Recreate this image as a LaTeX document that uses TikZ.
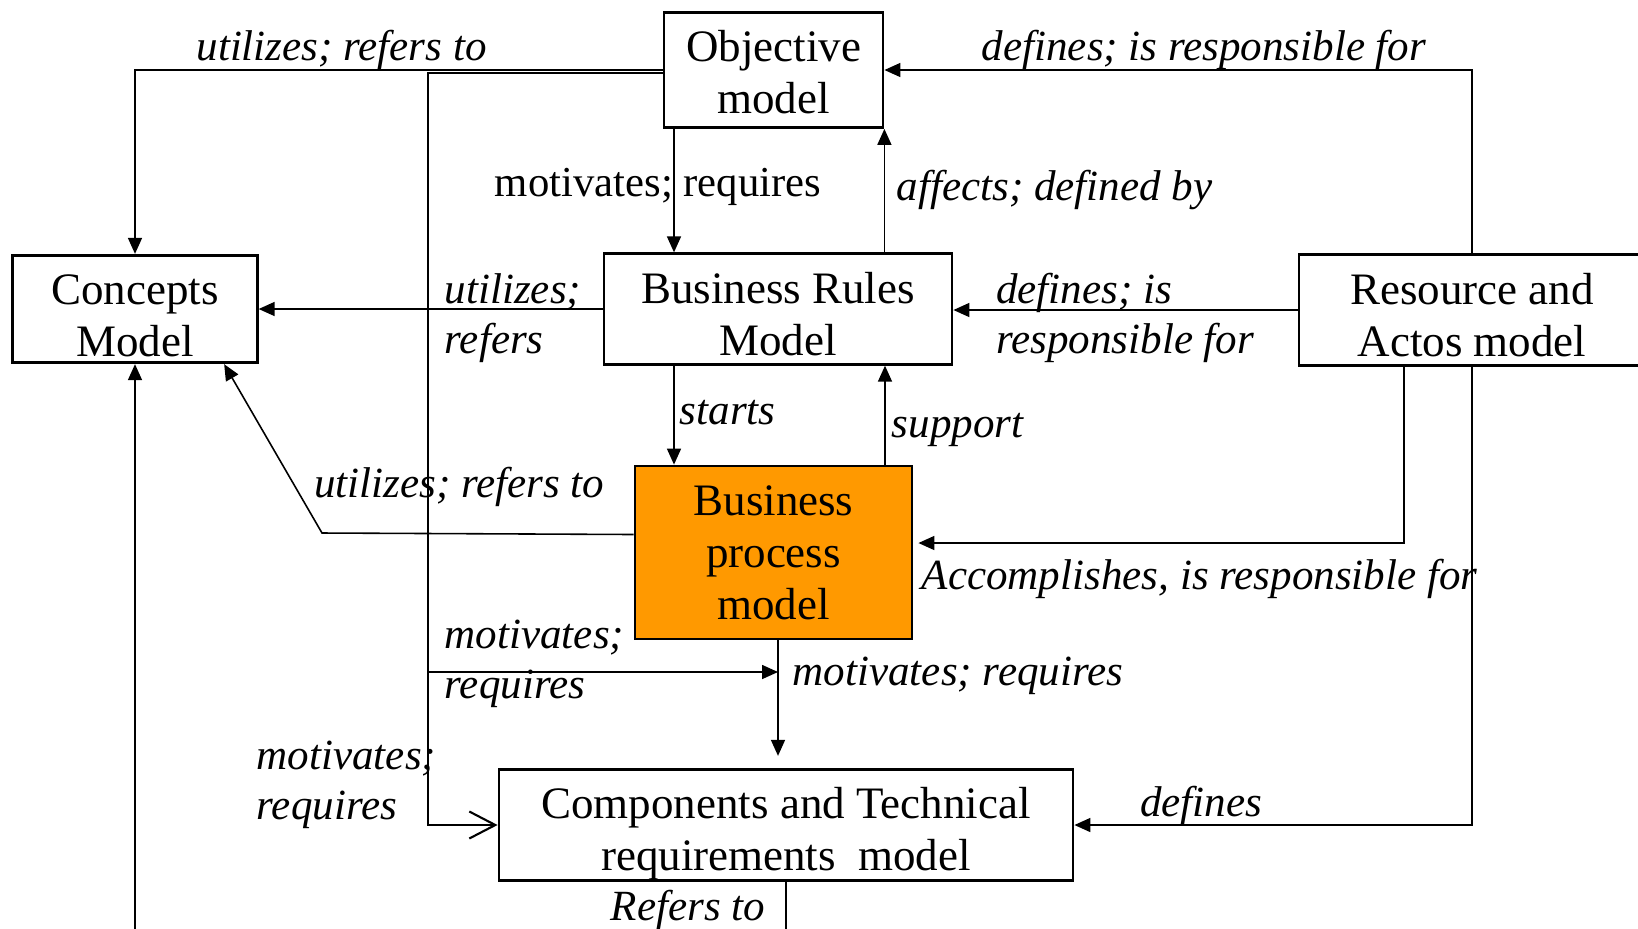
\documentclass[tikz,border=0pt]{standalone}
\usepackage{fontspec}
\setmainfont{Liberation Serif}
\usepackage{tikz}
\usetikzlibrary{arrows.meta}
\definecolor{procorange}{RGB}{255,153,0}

\begin{document}
\begin{tikzpicture}[->,>={Triangle[length=1.6mm,width=1.4mm]},x=0.1mm,y=-0.1mm,
                    line width=0.45pt]
  \tikzstyle{model}=[draw=black,line width=0.8pt,align=center,inner sep=0pt,
                     font=\fontsize{12.8}{14.8}\selectfont]
  \tikzstyle{lbl}=[align=left,inner sep=0pt,yshift=-0.35mm,
                   font=\fontsize{12.25}{14.3}\selectfont\itshape]
  \tikzstyle{open}=[-{Straight Barb[length=2.6mm,width=2.7mm,line width=0.6pt]}]
  \useasboundingbox (0,0) rectangle (1638,928);

  \node[model,minimum width=21.9mm,minimum height=11.5mm]  (O) at (773.5,70)  {\rule{0pt}{10.1pt}Objective\\model};
  \node[model,minimum width=24.45mm,minimum height=10.75mm] (C) at (135,309) {\rule{0pt}{12.1pt}Concepts\\Model};
  \node[model,minimum width=34.8mm,minimum height=11.05mm] (R) at (778,309)   {\rule{0pt}{11.9pt}Business Rules\\Model};
  \node[model,minimum width=34.6mm,minimum height=11.05mm] (A) at (1472,310)  {\rule{0pt}{11.6pt}Resource and\\Actos model};
  \node[model,fill=procorange,minimum width=27.7mm,minimum height=17.3mm] (P) at (773.5,552.5) {Business\\process\\model};
  \node[model,minimum width=57.4mm,minimum height=11.15mm] (T) at (786,825)   {\rule{0pt}{13.9pt}Components and Technical\\requirements\ \ model};

  \coordinate (trunk) at (428,825);
  \coordinate (fork)  at (428,672);
  \coordinate (kink)  at (322,533);
  \coordinate (low)   at (135,990);
  \coordinate (Odown) at ([xshift=-9.95mm]O.south);
  \coordinate (Rdown) at ([xshift=-10.4mm]R.south);
  \coordinate (Pup)   at ([xshift=11.15mm]P.north);
  \coordinate (Pout)  at ([yshift=1.8mm]P.west);
  \coordinate (Pin)   at ([xshift=0.5mm,yshift=0.95mm]P.east);
  \coordinate (pdrop) at ([xshift=0.45mm]P.south);
  \coordinate (Adown) at ([xshift=-6.8mm]A.south);
  \coordinate (Cin)   at ([xshift=-3.45mm]C.south east);

  \draw (O.west) -| (C.north);
  \draw[open] ([yshift=-0.3mm]O.west) -| (trunk) -- (T.west);
  \draw (fork) -- (fork -| pdrop);
  \draw (Odown) -- (Odown |- R.north);
  \draw (R.north -| O.south east) -- (O.south east);
  \draw (A.north) |- (O.east);
  \draw (A.west) -- (A.west -| R.east);
  \draw (R.west) -- (C.east);
  \draw (Rdown) -- (Rdown |- P.north);
  \draw (Pup) -- (Pup |- R.south);
  \draw (Pout) -- (kink) -- (Cin);
  \draw (Adown) |- (Pin);
  \draw (A.south) |- (T.east);
  \draw[shorten >=1.2mm] (pdrop) -- (pdrop |- T.north);
  \draw (T.south) |- (low) -- (C.south);

  \node[lbl] (l1)  at (341.6,46) {utilizes; refers to};
  \node[lbl] (l2)  at (1204,46)  {defines; is responsible for};
  \node[lbl,font=\fontsize{12.15}{14.3}\selectfont] (l3) at (658,183) {motivates; requires};
  \node[lbl,anchor=west] (l4)  at (896,186)   {affects; defined by};
  \node[lbl,anchor=west] (l5)  at (444,314.5) {utilizes;\\refers};
  \node[lbl,anchor=west] (l6)  at (995.5,314.5) {defines; is\\responsible for};
  \node[lbl,anchor=west] (l7)  at (679,409.5) {starts};
  \node[lbl,anchor=west] (l8)  at (891,426)   {support};
  \node[lbl,anchor=west] (l9)  at (313.4,483.6) {utilizes; refers to};
  \node[lbl,anchor=west] (l10) at (921,575.6) {Accomplishes, is responsible for};
  \node[lbl,anchor=west] (l11) at (444,660)   {motivates;\\requires};
  \node[lbl,anchor=west] (l12) at (792,672)   {motivates; requires};
  \node[lbl,anchor=west] (l13) at (256,781)   {motivates;\\requires};
  \node[lbl] (l14) at (1201,802) {defines};
  \node[lbl] (l15) at (688,906)  {Refers to};
\end{tikzpicture}
\end{document}
